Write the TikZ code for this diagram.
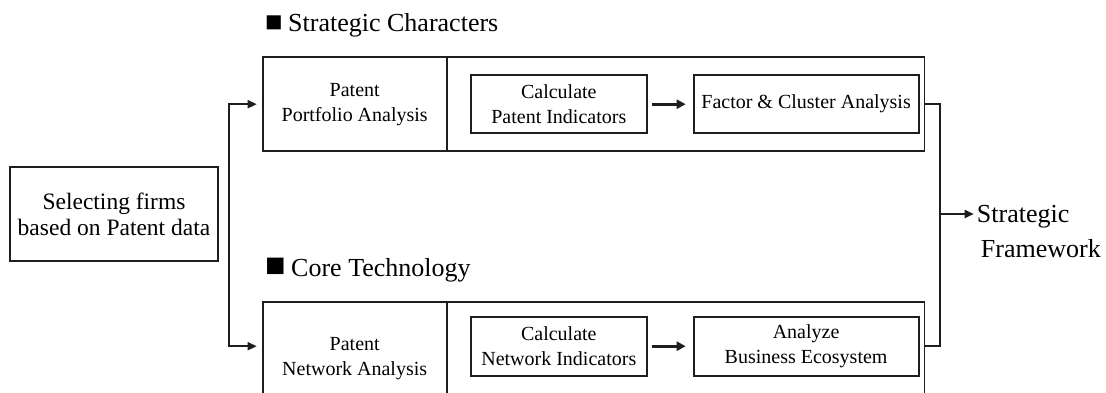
\documentclass[tikz,border=0pt]{standalone}
\usepackage{fontspec}
\setmainfont{Liberation Serif}
\usetikzlibrary{arrows.meta, positioning}
\definecolor{lineblack}{RGB}{30,30,30}

\begin{document}
\begin{tikzpicture}[
    x=1pt, y=-1pt,
    node distance=45pt,
    cell/.style={rectangle, draw=lineblack, line width=1.6pt, outer sep=0pt, inner sep=0pt, align=center, font=\fontsize{20}{25}\selectfont},
    stepbox/.style={rectangle, draw=lineblack, line width=1.8pt, minimum height=58pt, inner sep=0pt, align=center, font=\fontsize{20}{25}\selectfont},
    heading/.style={anchor=base west, inner sep=0pt, font=\fontsize{26}{30}\selectfont},
    arrow/.style={-{Triangle[length=9pt, width=9pt]}, line width=3pt, lineblack},
    conn/.style={line width=1.8pt, lineblack},
    connarrow/.style={conn, -{Triangle[length=9pt, width=8pt]}}
]
\path[use as bounding box] (0,0) rectangle (1106,392);
\clip (0,0) rectangle (1106,392);

% Selection
\node[cell, minimum width=208pt, minimum height=94pt, font=\fontsize{23.5}{26}\selectfont] (select) at (114,214) {Selecting firms\\based on Patent data};

% Strategic characters
\node[heading] (headsc) at (265,31.7) {{\fontsize{29}{29}\selectfont ■}\hspace{-1pt} Strategic Characters};
\node[cell, minimum width=184pt, minimum height=94pt] (ppa) at (354.7,104.2) {Patent\\Portfolio Analysis};
\node[cell, anchor=west, minimum width=477.6pt, minimum height=94pt] (ppabox) at (ppa.east) {};
\node[stepbox, minimum width=176pt] (cpi) at (558.8,104.2) {Calculate\\Patent Indicators};
\node[stepbox, minimum width=225pt, right=45pt of cpi] (fca) {Factor \& Cluster Analysis};

% Core technology
\node[heading] (headct) at (265,276.7) {{\fontsize{34}{34}\selectfont ■}\hspace{-1pt} Core Technology};
\node[cell, minimum width=184pt, minimum height=114pt] (pna) at (354.7,359) {Patent\\Network Analysis};
\node[cell, anchor=west, minimum width=477.6pt, minimum height=114pt] (pnabox) at (pna.east) {};
\node[stepbox, minimum width=176pt, minimum height=59pt] (cni) at (558.8,346.2) {Calculate\\Network Indicators};
\node[stepbox, minimum width=225pt, minimum height=59pt, right=45pt of cni] (abe) {Analyze\\Business Ecosystem};
\draw[line width=2.8pt, lineblack] (pna.north west) -- (pna.north east);

% Result
\node[anchor=north west, inner sep=0pt, align=left, font=\fontsize{26}{35}\selectfont] (result) at (976.7,205) {Strategic\\\hspace*{4pt}Framework};

% Arrows
\draw[arrow, shorten <=4pt, shorten >=7pt] (cpi) -- (fca);
\draw[arrow, shorten <=4pt, shorten >=7pt] (cni) -- (abe);

\coordinate (fork) at (229,224);
\draw[connarrow, shorten >=6pt] (fork) |- (ppa.west |- cpi);
\draw[connarrow, shorten >=6pt] (fork) |- (pna.west |- cni);

\coordinate (join) at (940,214);
\draw[conn] (ppabox.east |- fca) -| (join);
\draw[conn] (pnabox.east |- abe) -| (join);
\draw[connarrow, shorten >=3pt] (join) -- (result.west |- join);
\end{tikzpicture}
\end{document}
